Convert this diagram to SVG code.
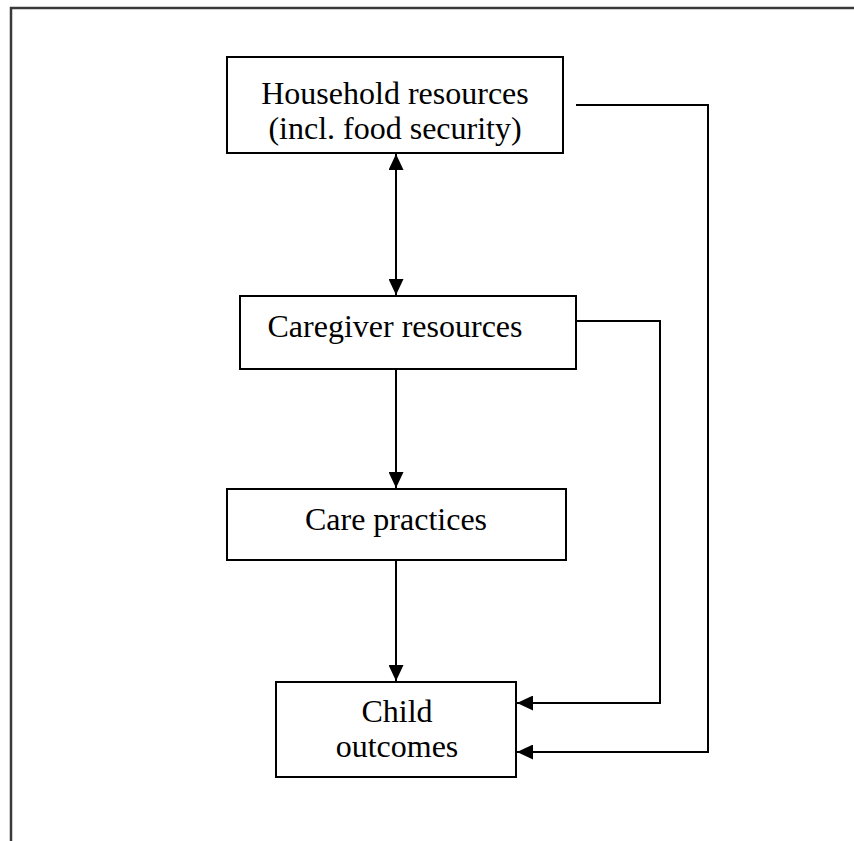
<svg xmlns="http://www.w3.org/2000/svg" width="854" height="841" viewBox="0 0 854 841">
<style>
.box{fill:#fff;stroke:#000;stroke-width:2}
.lbl{font-family:"Liberation Serif","Times New Roman",serif;font-size:32px;fill:#000;text-anchor:middle}
.con{fill:none;stroke:#000;stroke-width:2}
</style>
<defs>
<marker id="ah" viewBox="0 0 16 15" refX="16" refY="7.5" markerWidth="16" markerHeight="15" markerUnits="userSpaceOnUse" orient="auto-start-reverse">
<path d="M0,0 L16,7.5 L0,15 Z" fill="#000"/>
</marker>
</defs>
<rect width="854" height="841" fill="#fff"/>
<path d="M11,841 V8 H854" fill="none" stroke="#3a3a3a" stroke-width="2.5"/>
<g id="connectors">
<line class="con" x1="396" y1="154" x2="396" y2="295" marker-start="url(#ah)" marker-end="url(#ah)"/>
<line class="con" x1="396" y1="369" x2="396" y2="488" marker-end="url(#ah)"/>
<line class="con" x1="396" y1="560" x2="396" y2="681" marker-end="url(#ah)"/>
<polyline class="con" points="576,321 660,321 660,703 517,703" marker-end="url(#ah)"/>
<polyline class="con" points="576,105 708,105 708,752 517,752" marker-end="url(#ah)"/>
</g>
<g id="household">
<rect class="box" x="227" y="57" width="336" height="96"/>
<text class="lbl" x="395" y="104">Household resources</text>
<text class="lbl" x="395" y="139">(incl. food security)</text>
</g>
<g id="caregiver">
<rect class="box" x="240" y="296" width="336" height="73"/>
<text class="lbl" x="395" y="337">Caregiver resources</text>
</g>
<g id="care">
<rect class="box" x="227" y="489" width="339" height="71"/>
<text class="lbl" x="396" y="530">Care practices</text>
</g>
<g id="child">
<rect class="box" x="276" y="682" width="240" height="95"/>
<text class="lbl" x="397" y="722">Child</text>
<text class="lbl" x="397" y="757">outcomes</text>
</g>
</svg>
